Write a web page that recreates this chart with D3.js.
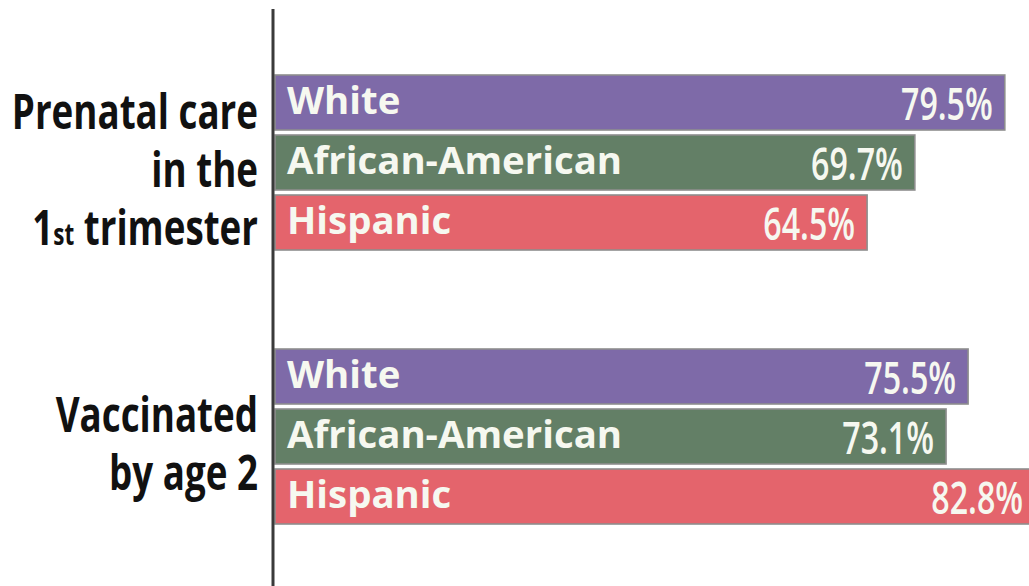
<!DOCTYPE html>
<html>
<head>
<meta charset="utf-8">
<script src="https://cdn.jsdelivr.net/npm/d3@7"></script>
<style>
  html, body { margin: 0; padding: 0; background: #ffffff; }
  svg { display: block; }
</style>
</head>
<body>
<svg id="chart" width="1029" height="586"></svg>
<script>
// Measures and the share of each group reaching them
const measures = ["prenatal", "vaccinated"];
const measureLines = [
  [["Prenatal care"], ["in the"], ["1", "st", " trimester"]],
  [["Vaccinated"], ["by age 2"]]
];
const groups = ["White", "African-American", "Hispanic"];
const prenatalValues = [79.5, 69.7, 64.5];
const vaccinatedValues = [75.5, 73.1, 82.8];
const seriesValues = [prenatalValues, vaccinatedValues];

const groupColors = ["#7e6aa8", "#637f66", "#e4646c"];

const W = 1029, H = 586;
const svg = d3.select("#chart");

const x = d3.scaleLinear().domain([0, 100]).range([275, 275 + 918]);

const yMeasure = d3.scaleBand()
  .domain(measures)
  .range([72.5, 72.5 + 274 + 180])
  .paddingInner(94 / 274)
  .paddingOuter(0);

const yGroup = d3.scaleBand()
  .domain(groups)
  .range([0, yMeasure.bandwidth()])
  .paddingInner(5 / 60)
  .paddingOuter(2.5 / 60);

const color = d3.scaleOrdinal().domain(groups).range(groupColors);

const rows = measures.map((m, i) => ({
  measure: m,
  lines: measureLines[i],
  bars: groups.map((g, j) => ({ group: g, value: seriesValues[i][j] }))
}));

const blocks = svg.selectAll("g.block")
  .data(rows)
  .join("g")
  .attr("class", "block")
  .attr("transform", d => `translate(0,${yMeasure(d.measure)})`);

// Bars
const bar = blocks.selectAll("g.bar")
  .data(d => d.bars)
  .join("g")
  .attr("class", "bar")
  .attr("transform", d => `translate(0,${yGroup(d.group)})`);

bar.append("rect")
  .attr("x", x(0))
  .attr("y", 0)
  .attr("width", d => x(d.value) - x(0))
  .attr("height", yGroup.bandwidth())
  .attr("fill", d => color(d.group))
  .attr("stroke", "#8e8e8e")
  .attr("stroke-width", 1.6);

// Group names inside the bars
bar.append("text")
  .attr("transform", d => `translate(${x(0) + 12},${yGroup.bandwidth() / 2 + 11.5}) scale(1.01,1)`)
  .attr("font-family", "'Open Sans', sans-serif")
  .attr("font-weight", 700)
  .attr("font-size", 38)
  .attr("fill", "#f6f8f0")
  .text(d => d.group);

// Values at the bar ends
bar.append("text")
  .attr("transform", d => `translate(${x(d.value) - 12},${yGroup.bandwidth() / 2 + 17}) scale(0.7,1)`)
  .attr("text-anchor", "end")
  .attr("font-family", "'Open Sans', sans-serif")
  .attr("font-weight", 600)
  .attr("font-size", 46)
  .attr("fill", "#f6f8f0")
  .text(d => d.value.toFixed(1) + "%");

// Measure labels left of the axis
const lineHeight = 58;
blocks.each(function (d) {
  const g = d3.select(this);
  const n = d.lines.length;
  const mid = yMeasure.bandwidth() / 2 + 7;
  d.lines.forEach((parts, k) => {
    const capCenter = mid + (k - (n - 1) / 2) * lineHeight;
    const t = g.append("text")
      .attr("transform", `translate(258,${capCenter + 17.5}) scale(0.75,1)`)
      .attr("text-anchor", "end")
      .attr("font-family", "'Open Sans', sans-serif")
      .attr("font-weight", 700)
      .attr("font-size", 49)
      .attr("fill", "#111111");
    parts.forEach((p, pi) => {
      t.append("tspan")
        .attr("font-size", (parts.length > 1 && pi === 1) ? 30 : null)
        .text(p);
    });
  });
});

// Vertical axis line
svg.append("line")
  .attr("x1", 273).attr("x2", 273)
  .attr("y1", 9).attr("y2", H)
  .attr("stroke", "#3a3a3a")
  .attr("stroke-width", 3);
</script>
</body>
</html>
